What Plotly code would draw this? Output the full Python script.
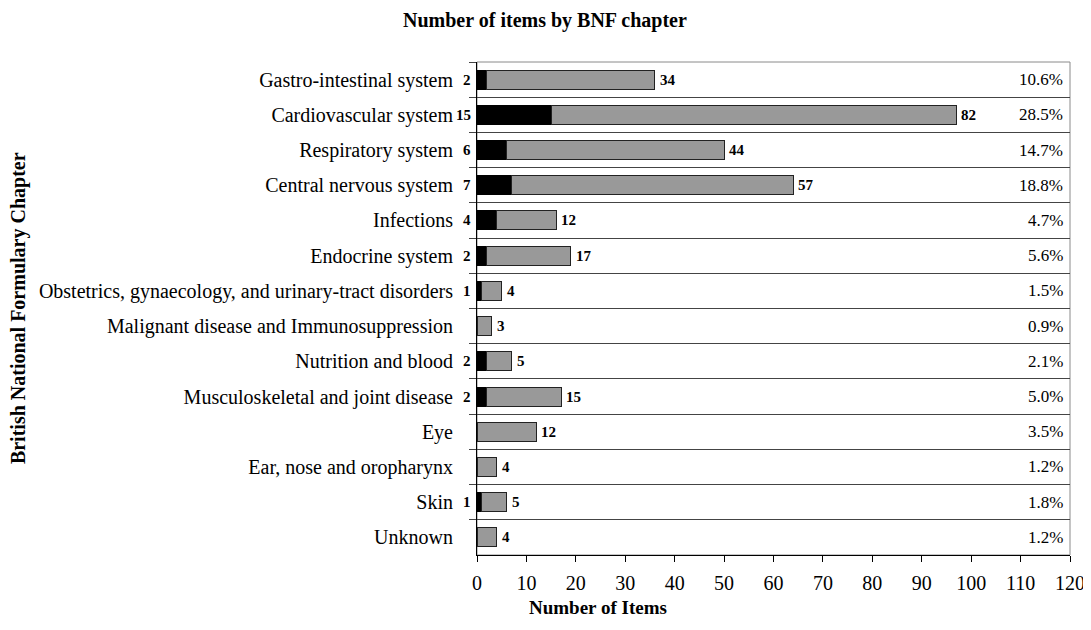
import plotly.graph_objects as go

categories = [
    "Gastro-intestinal system", "Cardiovascular system", "Respiratory system",
    "Central nervous system", "Infections", "Endocrine system",
    "Obstetrics, gynaecology, and urinary-tract disorders",
    "Malignant disease and Immunosuppression", "Nutrition and blood",
    "Musculoskeletal and joint disease", "Eye", "Ear, nose and oropharynx",
    "Skin", "Unknown",
]
black_values = [2, 15, 6, 7, 4, 2, 1, 0, 2, 2, 0, 0, 1, 0]
gray_values = [34, 82, 44, 57, 12, 17, 4, 3, 5, 15, 12, 4, 5, 4]
percent_labels = ["10.6%", "28.5%", "14.7%", "18.8%", "4.7%", "5.6%", "1.5%",
                  "0.9%", "2.1%", "5.0%", "3.5%", "1.2%", "1.8%", "1.2%"]
x_max = 120

FONT = "Liberation Serif"
totals = [b + g for b, g in zip(black_values, gray_values)]

fig = go.Figure()
fig.add_trace(go.Bar(
    y=categories, x=black_values, orientation="h",
    marker=dict(color="#000000", line=dict(color="#000000", width=1)),
    hoverinfo="skip", showlegend=False,
))
fig.add_trace(go.Bar(
    y=categories, x=gray_values, orientation="h",
    marker=dict(color="#999999", line=dict(color="#222222", width=1)),
    hoverinfo="skip", showlegend=False,
))

annotations = []
for cat, b in zip(categories, black_values):
    if b > 0:
        annotations.append(dict(
            x=0, y=cat, xref="x", yref="y", text="<b>%d</b>" % b, showarrow=False,
            xanchor="right", yanchor="middle", xshift=-4,
            font=dict(family=FONT, size=15, color="#000000")))
for cat, g, t in zip(categories, gray_values, totals):
    annotations.append(dict(
        x=t, y=cat, xref="x", yref="y", text="<b>%d</b>" % g, showarrow=False,
        xanchor="left", yanchor="middle", xshift=3,
        font=dict(family=FONT, size=15, color="#000000")))
for cat, p in zip(categories, percent_labels):
    annotations.append(dict(
        x=x_max, y=cat, xref="x", yref="y", text=p, showarrow=False,
        xanchor="right", yanchor="middle", xshift=-5,
        font=dict(family=FONT, size=17, color="#000000")))
annotations.append(dict(
    text="<b>Number of Items</b>", xref="paper", yref="paper", x=0.204, y=-0.1075,
    xanchor="center", yanchor="middle", showarrow=False,
    font=dict(family=FONT, size=19)))
annotations.append(dict(
    text="<b>British National Formulary Chapter</b>", xref="paper", yref="paper",
    x=-0.773, y=0.5, xanchor="center", yanchor="middle", textangle=-90,
    showarrow=False, font=dict(family=FONT, size=20)))

fig.update_layout(
    width=1083, height=622,
    margin=dict(l=469, r=21, t=54, b=75, autoexpand=False),
    barmode="stack", bargap=0.46,
    plot_bgcolor="white", paper_bgcolor="white",
    font=dict(family=FONT, size=20, color="#000000"),
    title=dict(text="<b>Number of items by BNF chapter</b>", x=0.4958, xanchor="center",
               y=0.9807, yanchor="middle", font=dict(family=FONT, size=20)),
    xaxis=dict(range=[0, x_max], dtick=10, tick0=0, ticks="outside", ticklen=6,
               tickcolor="#000000", showline=True, linecolor="#000000", linewidth=1,
               showgrid=False, zeroline=False, tickfont=dict(size=20),
               automargin=False, ticklabelstandoff=4),
    yaxis=dict(type="category", categoryorder="array", categoryarray=categories,
               autorange="reversed", tickson="boundaries", ticks="outside", ticklen=7,
               tickcolor="#444444", showgrid=True, gridcolor="#444444", gridwidth=1,
               showline=True, linecolor="#000000", linewidth=1, automargin=False,
               ticklabelstandoff=19, tickfont=dict(size=20)),
    shapes=[dict(type="rect", xref="x domain", yref="y domain", x0=0, x1=1, y0=0, y1=1,
                 line=dict(color="#8a8a8a", width=1), layer="below")],
    annotations=annotations,
)

fig.write_html("out.html")
